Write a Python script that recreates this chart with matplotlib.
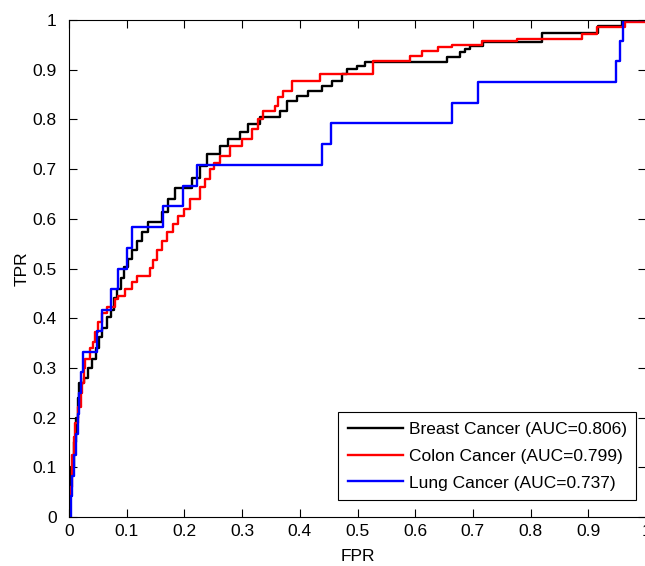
import matplotlib
matplotlib.use("Agg")
import matplotlib.pyplot as plt

# ROC curves (x = start of each level, y = level)
breast_fpr = [0, 0.002, 0.004, 0.008, 0.012, 0.015, 0.017, 0.026, 0.033, 0.04,
              0.046, 0.052, 0.058, 0.066, 0.072, 0.078, 0.083, 0.09, 0.095, 0.102,
              0.109, 0.118, 0.126, 0.137, 0.161, 0.172, 0.184, 0.213, 0.227, 0.239,
              0.262, 0.276, 0.296, 0.31, 0.331, 0.366, 0.378, 0.395, 0.414, 0.438,
              0.456, 0.473, 0.482, 0.499, 0.513, 0.655, 0.678, 0.686, 0.695, 0.718,
              0.82, 0.917, 0.958, 1.0]
breast_tpr = [0, 0.05, 0.1, 0.15, 0.2, 0.24, 0.27, 0.28, 0.3, 0.317,
              0.34, 0.363, 0.38, 0.403, 0.417, 0.44, 0.458, 0.48, 0.504, 0.52,
              0.538, 0.556, 0.573, 0.593, 0.613, 0.639, 0.663, 0.683, 0.706, 0.73,
              0.746, 0.76, 0.774, 0.79, 0.804, 0.816, 0.837, 0.847, 0.857, 0.867,
              0.877, 0.891, 0.901, 0.907, 0.915, 0.925, 0.935, 0.941, 0.948, 0.955,
              0.974, 0.988, 1.0, 1.0]

colon_fpr = [0, 0.002, 0.005, 0.008, 0.01, 0.016, 0.02, 0.023, 0.026, 0.028,
             0.036, 0.042, 0.045, 0.05, 0.057, 0.066, 0.08, 0.085, 0.097, 0.109,
             0.118, 0.14, 0.146, 0.152, 0.161, 0.17, 0.18, 0.189, 0.2, 0.21,
             0.227, 0.235, 0.244, 0.252, 0.262, 0.279, 0.3, 0.317, 0.328, 0.336,
             0.357, 0.362, 0.371, 0.386, 0.435, 0.527, 0.591, 0.612, 0.64, 0.664,
             0.716, 0.776, 0.889, 0.915, 0.963, 1.0]
colon_tpr = [0, 0.06, 0.125, 0.16, 0.19, 0.222, 0.25, 0.27, 0.3, 0.317,
             0.341, 0.353, 0.373, 0.393, 0.411, 0.423, 0.438, 0.444, 0.458, 0.472,
             0.484, 0.502, 0.518, 0.538, 0.556, 0.573, 0.59, 0.605, 0.62, 0.639,
             0.665, 0.68, 0.7, 0.712, 0.726, 0.746, 0.76, 0.78, 0.8, 0.816,
             0.827, 0.845, 0.857, 0.877, 0.891, 0.917, 0.927, 0.938, 0.946, 0.95,
             0.958, 0.962, 0.972, 0.986, 0.996, 0.996]

lung_fpr = [0, 0.003, 0.005, 0.008, 0.012, 0.015, 0.018, 0.021, 0.024, 0.049,
            0.058, 0.072, 0.085, 0.1, 0.11, 0.163, 0.198, 0.222, 0.438, 0.454,
            0.664, 0.709, 0.948, 0.955, 0.96, 1.0]
lung_tpr = [0, 0.042, 0.083, 0.125, 0.167, 0.208, 0.25, 0.292, 0.333, 0.375,
            0.417, 0.458, 0.5, 0.542, 0.583, 0.625, 0.667, 0.708, 0.75, 0.792,
            0.833, 0.875, 0.917, 0.958, 1.0, 1.0]

labels = ["Breast Cancer (AUC=0.806)", "Colon Cancer (AUC=0.799)",
          "Lung Cancer (AUC=0.737)"]
ticks = [0, 0.1, 0.2, 0.3, 0.4, 0.5, 0.6, 0.7, 0.8, 0.9, 1]
tick_labels = ["0", "0.1", "0.2", "0.3", "0.4", "0.5", "0.6", "0.7", "0.8", "0.9", "1"]

plt.rcParams["font.family"] = ["Liberation Sans", "DejaVu Sans"]
plt.rcParams["font.size"] = 12.5

fig = plt.figure(figsize=(6.45, 5.66), dpi=100)
ax = fig.add_axes([0.107, 0.0866, 0.8946, 0.878])

curves = [(breast_fpr, breast_tpr, "#000000"),
          (colon_fpr, colon_tpr, "#ff0000"),
          (lung_fpr, lung_tpr, "#0000ff")]
for (fpr, tpr, colour), label in zip(curves, labels):
    ax.plot(fpr, tpr, drawstyle="steps-post", color=colour, lw=1.7, label=label)

ax.set_xlim(0, 1)
ax.set_ylim(0, 1)
ax.set_xticks(ticks)
ax.set_xticklabels(tick_labels)
ax.set_yticks(ticks)
ax.set_yticklabels(tick_labels)
ax.tick_params(direction="in", length=6, width=0.8, top=True, right=True)
ax.tick_params(axis="x", pad=5)
ax.tick_params(axis="y", pad=9)
ax.set_xlabel("FPR", labelpad=7)
ax.set_ylabel("TPR", labelpad=2)
for spine in ax.spines.values():
    spine.set_linewidth(0.8)

leg = ax.legend(loc="lower right", bbox_to_anchor=(0.983, 0.034), borderaxespad=0,
                fancybox=False, edgecolor="black", framealpha=1,
                handlelength=3.2, handletextpad=0.3, labelspacing=0.68,
                borderpad=0.55)
leg.get_frame().set_linewidth(0.8)

fig.savefig("out.png", dpi=100, facecolor="white")
